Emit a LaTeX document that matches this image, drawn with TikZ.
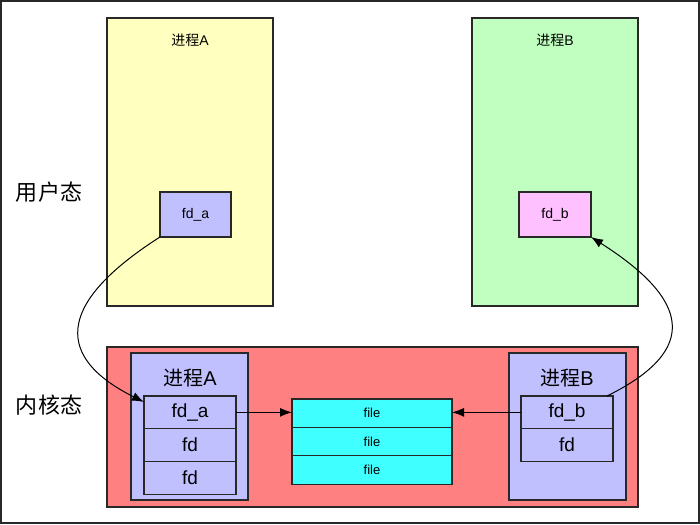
\documentclass[tikz,border=0pt]{standalone}
\usepackage{fontspec}
\setmainfont{Liberation Sans}
\newfontfamily\cjk{Noto Sans CJK SC}
\usetikzlibrary{arrows.meta}
\definecolor{uyellow}{RGB}{255,255,192}
\definecolor{ugreen}{RGB}{192,255,192}
\definecolor{lav}{RGB}{192,192,255}
\definecolor{upink}{RGB}{255,192,255}
\definecolor{kred}{RGB}{255,128,128}
\definecolor{kcyan}{RGB}{64,255,255}
\definecolor{edge}{RGB}{40,40,40}
\tikzset{
  box/.style={draw=edge, line width=1.2pt, inner sep=0pt, outer sep=0pt, anchor=north west},
  lbl/.style={inner sep=0pt, text=black},
  conn/.style={line width=1pt, -{Latex[length=12pt,width=9pt]}},
}
\begin{document}
\begin{tikzpicture}[x=1pt,y=-1pt]
\useasboundingbox (0,0) rectangle (700,524);
\draw[draw=edge, line width=1.5pt] (1,1) rectangle (699,523);
% user space
\node[box, fill=uyellow, minimum width=166pt, minimum height=288pt] (ua) at (107,18) {};
\node[box, fill=ugreen, minimum width=166pt, minimum height=288pt] (ub) at (472,18) {};
\node[lbl, font=\fontsize{14}{16}\selectfont] (uatxt) at (190,40) {{\cjk 进程}A};
\node[lbl, font=\fontsize{14}{16}\selectfont] (ubtxt) at (555,40) {{\cjk 进程}B};
\node[box, fill=lav, minimum width=71pt, minimum height=45pt, font=\fontsize{14}{16}\selectfont] (ufa) at (160,192) {fd\_a};
\node[box, fill=upink, minimum width=72pt, minimum height=45pt, font=\fontsize{14}{16}\selectfont] (ufb) at (519,192) {fd\_b};
\node[lbl, font=\cjk\fontsize{22}{24}\selectfont] (user) at (49,192) {用户态};
% kernel
\node[box, fill=kred, minimum width=531pt, minimum height=160pt] (kern) at (107,347) {};
\node[lbl, font=\cjk\fontsize{22}{24}\selectfont] (ktxt) at (49,405) {内核态};
\node[box, fill=lav, minimum width=117pt, minimum height=147pt] (ka) at (131,353) {};
\node[box, fill=lav, minimum width=117pt, minimum height=147pt] (kb) at (509,353) {};
\node[lbl, font=\fontsize{20}{22}\selectfont] (katxt) at (190,378) {{\cjk 进程}A};
\node[lbl, font=\fontsize{20}{22}\selectfont] (kbtxt) at (567,378) {{\cjk 进程}B};
\begin{scope}[every node/.append style={box, fill=lav, minimum width=92pt, minimum height=32.7pt, font=\fontsize{19}{22}\selectfont}]
\node (kfa) at (144,396) {fd\_a};
\node (kfa2) at (144,428.7) {fd};
\node (kfa3) at (144,461.4) {fd};
\node (kfb) at (521,396) {fd\_b};
\node (kfb2) at (521,428.7) {fd};
\end{scope}
\begin{scope}[every node/.append style={box, fill=kcyan, minimum width=160pt, minimum height=28.4pt, font=\fontsize{13}{15}\selectfont}]
\node (f1) at (292,399) {file};
\node (f2) at (292,427.4) {file};
\node (f3) at (292,455.8) {file};
\end{scope}
% connectors
\draw[conn] (kfa.east) -- (f1.west |- kfa.east);
\draw[conn] (kfb.west) -- (f1.east |- kfb.west);
\draw[conn] (ufa.south west) .. controls (30,320) and (80,370) .. ([yshift=-6pt]kfa.north west);
\draw[conn] ([xshift=-6pt]kfb.north east) .. controls (700,350) and (690,300) .. (ufb.south east);
\end{tikzpicture}
\end{document}
